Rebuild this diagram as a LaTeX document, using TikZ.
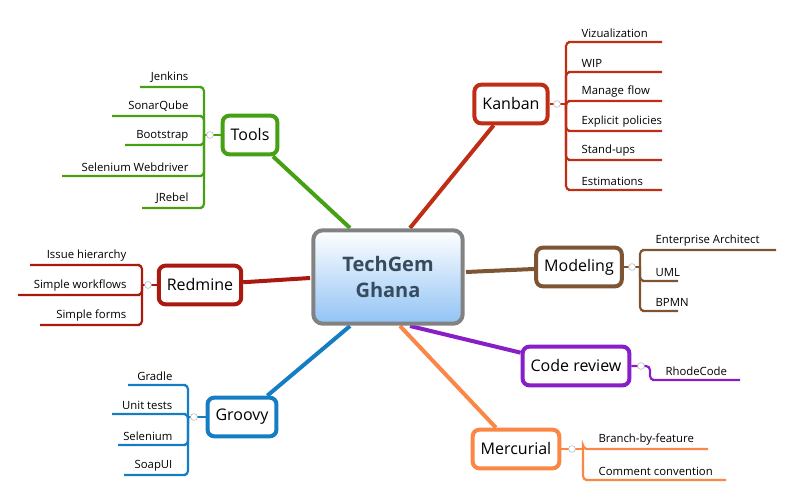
\documentclass[tikz,border=0pt]{standalone}
\usepackage{fontspec}
\setmainfont{Open Sans}
\usetikzlibrary{positioning}
\definecolor{kanbanc}{RGB}{190,45,20}
\definecolor{toolsc}{RGB}{70,160,20}
\definecolor{redmc}{RGB}{170,25,15}
\definecolor{groovc}{RGB}{20,125,195}
\definecolor{modelc}{RGB}{125,85,50}
\definecolor{codec}{RGB}{135,30,200}
\definecolor{mercc}{RGB}{250,135,70}
\definecolor{centc}{RGB}{130,130,130}
\definecolor{centt}{RGB}{55,75,95}
\definecolor{centb}{RGB}{145,195,245}
\tikzset{
  topic/.style={draw=#1,line width=3pt,rounded corners=5pt,fill=white,font=\fontsize{12}{14}\selectfont,inner xsep=6pt,inner ysep=0pt,minimum height=29pt},
  sub/.style={inner xsep=7pt,inner ysep=3pt,font=\fontsize{8.5}{11}\selectfont},
  link/.style={draw=#1,line width=3pt},
  twig/.style={draw=#1,line width=1.6pt,rounded corners=3pt},
  knob/.style={circle,draw=gray!60,fill=white,inner sep=1.8pt}
}
\begin{document}
\begin{tikzpicture}[x=0.75pt,y=-0.75pt]
\useasboundingbox (0,0) rectangle (794,495);
% branches from the centre
\coordinate (ck) at (410,228);
\coordinate (ct) at (350,228);
\coordinate (cr) at (310,278);
\coordinate (cg) at (350,326);
\coordinate (cm) at (466,272);
\coordinate (cc) at (410,326);
\coordinate (cu) at (400,326);
\node[topic=kanbanc] (kan) at (511,104) {Kanban};
\node[topic=toolsc] (tools) at (250,135) {Tools};
\node[topic=redmc] (red) at (200,285) {Redmine};
\node[topic=groovc] (groo) at (242,417) {Groovy};
\node[topic=modelc] (mod) at (579,267) {Modeling};
\node[topic=codec] (code) at (576,366) {Code review};
\node[topic=mercc] (merc) at (516,449) {Mercurial};
\draw[link=kanbanc] (ck) -- (kan);
\draw[link=toolsc] (ct) -- (tools);
\draw[link=redmc] (cr) -- (red);
\draw[link=groovc] (cg) -- (groo);
\draw[link=modelc] (cm) -- (mod);
\draw[link=codec] (cc) -- (code);
\draw[link=mercc] (cu) -- (merc);
\node[draw=centc,line width=3pt,rounded corners=7pt,top color=white,bottom color=centb,
  minimum width=112pt,minimum height=70pt,align=center,
  font=\bfseries\fontsize{15}{20}\selectfont,text=centt] (cent) at (388,277) {TechGem\\Ghana};
% Kanban
\foreach \t/\y [count=\i] in {Vizualization/42,WIP/72,Manage flow/101,Explicit policies/131,Stand-ups/160,Estimations/190}{
  \node[sub,anchor=south west,text width=70pt,align=left] (k\i) at (572,\y) {\t};
  \draw[twig=kanbanc] (566,104) |- (k\i.south west) -- (662,\y);
}
\draw[twig=kanbanc] (kan.east) -- (566,104);
\node[knob] (kk) at (557,104) {};
% Tools
\foreach \t/\x/\y [count=\i] in {Jenkins/140/87,SonarQube/112/116,Bootstrap/125/145,Selenium Webdriver/62/176,JRebel/142/208}{
  \node[sub,anchor=south east,align=right] (t\i) at (198,\y) {\t};
  \draw[twig=toolsc] (204,135) |- (t\i.south east) -- (\x,\y);
}
\draw[twig=toolsc] (tools.west) -- (204,135);
\node[knob] (tk) at (210,135) {};
% Redmine
\foreach \t/\x/\y [count=\i] in {Issue hierarchy/30/265,Simple workflows/18/295,Simple forms/40/325}{
  \node[sub,anchor=south east] (r\i) at (136,\y) {\t};
  \draw[twig=redmc] (142,285) |- (r\i.south east) -- (\x,\y);
}
\draw[twig=redmc] (red.west) -- (142,285);
\node[knob] (rk) at (148,285) {};
% Groovy
\foreach \t/\x/\y [count=\i] in {Gradle/128/385,Unit tests/112/414,Selenium/118/445,SoapUI/124/475}{
  \node[sub,anchor=south east] (g\i) at (182,\y) {\t};
  \draw[twig=groovc] (188,417) |- (g\i.south east) -- (\x,\y);
}
\draw[twig=groovc] (groo.west) -- (188,417);
\node[knob] (gk) at (194,417) {};
% Modeling
\foreach \t/\x/\y [count=\i] in {Enterprise Architect/776/250,UML/678/281,BPMN/678/311}{
  \node[sub,anchor=south west] (m\i) at (646,\y) {\t};
  \draw[twig=modelc] (640,267) |- (m\i.south west) -- (\x,\y);
}
\draw[twig=modelc] (mod.east) -- (640,267);
\node[knob] (mk) at (632,267) {};
% Code review
\node[sub,anchor=south west] (c1) at (656,380) {RhodeCode};
\draw[twig=codec] (code.east) -- (650,366) |- (c1.south west) -- (740,380);
\node[knob] (ccn) at (641,366) {};
% Mercurial
\foreach \t/\x/\y [count=\i] in {Branch-by-feature/708/449,Comment convention/726/480}{
  \node[sub,anchor=south west] (u\i) at (589,\y) {\t};
  \draw[twig=mercc] (583,449) |- (u\i.south west) -- (\x,\y);
}
\draw[twig=mercc] (merc.east) -- (583,449);
\node[knob] (uk) at (572,449) {};
\end{tikzpicture}
\end{document}
